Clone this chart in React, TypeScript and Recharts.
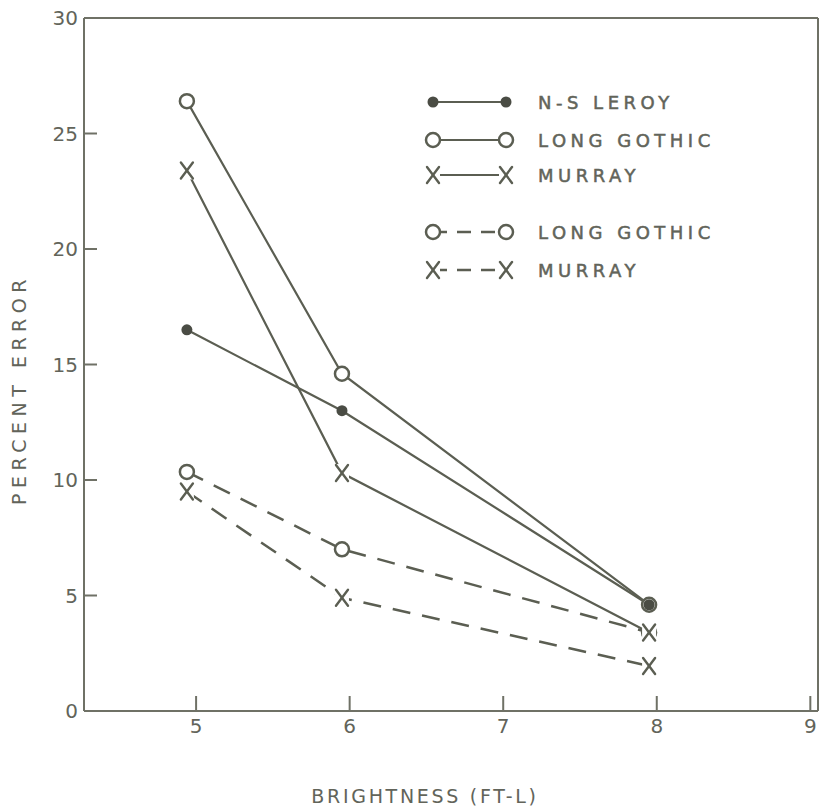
import { LineChart, Line, XAxis, YAxis, Label, ReferenceLine } from "recharts";

// brightness (ft-L) where each reading was taken (plotted just left of the ticks)
const brightness = [4.94, 5.95, 7.95];

// percent error per lettering style (solid = first condition, dashed = second)
const leroySolid = [16.5, 13.0, 4.6];
const gothicSolid = [26.4, 14.6, 4.6];
const murraySolid = [23.4, 10.3, 3.4];
const gothicDashed = [10.35, 7.0, 3.4];
const murrayDashed = [9.5, 4.9, 1.95];

const xTicks = [5, 6, 7, 8, 9];
const yTicks = [0, 5, 10, 15, 20, 25, 30];

const INK = "#5b5e52";
const DOT = "#4a4c44";
const AXIS = "#6f7166";
const TEXT = "#62645a";
const FONT = "'DejaVu Sans', sans-serif";

type Marker = "filled" | "open" | "x";

const series: { key: string; name: string; values: number[]; marker: Marker; dashed: boolean }[] = [
  { key: "gothicDashed", name: "LONG GOTHIC", values: gothicDashed, marker: "open", dashed: true },
  { key: "murrayDashed", name: "MURRAY", values: murrayDashed, marker: "x", dashed: true },
  { key: "murraySolid", name: "MURRAY", values: murraySolid, marker: "x", dashed: false },
  { key: "gothicSolid", name: "LONG GOTHIC", values: gothicSolid, marker: "open", dashed: false },
  { key: "leroySolid", name: "N-S LEROY", values: leroySolid, marker: "filled", dashed: false },
];

const legendOrder = ["leroySolid", "gothicSolid", "murraySolid", "gothicDashed", "murrayDashed"];

const rows = brightness.map((x, i) => {
  const r: Record<string, number> = { x };
  series.forEach((s) => (r[s.key] = s.values[i]));
  return r;
});

function drawMarker(kind: Marker, cx: number, cy: number, key?: string) {
  if (kind === "filled") return <circle key={key} cx={cx} cy={cy} r={5.5} fill={DOT} />;
  if (kind === "open")
    return <circle key={key} cx={cx} cy={cy} r={7} fill="#fff" stroke={INK} strokeWidth={2.5} />;
  return (
    <g key={key} stroke={INK} strokeWidth={2.4} strokeLinecap="round">
      <rect x={cx - 7} y={cy - 9} width={14} height={18} fill="#fff" stroke="none" />
      <line x1={cx - 6} y1={cy - 8} x2={cx + 6} y2={cy + 8} />
      <line x1={cx + 6} y1={cy - 8} x2={cx - 6} y2={cy + 8} />
    </g>
  );
}

const makeDot = (kind: Marker) => (p: any) => {
  if (p.cx == null || p.cy == null) return <g key={p.key} />;
  return drawMarker(kind, p.cx, p.cy, `${kind}-${p.index}`);
};

function LegendBox() {
  const ys = [12, 50, 85, 142, 180];
  return (
    <svg width={330} height={200} style={{ position: "absolute", left: 422, top: 90 }}>
      {legendOrder.map((k, i) => {
        const s = series.find((d) => d.key === k)!;
        const y = ys[i];
        return (
          <g key={k}>
            <line
              x1={11}
              y1={y}
              x2={84}
              y2={y}
              stroke={INK}
              strokeWidth={s.dashed ? 2.5 : 2.2}
              strokeDasharray={s.dashed ? "14 10" : undefined}
            />
            {drawMarker(s.marker, 11, y)}
            {drawMarker(s.marker, 84, y)}
            <text
              x={116}
              y={y}
              dominantBaseline="central"
              fontFamily={FONT}
              fontSize={18}
              letterSpacing={4.5}
              fill={TEXT}
              stroke={TEXT}
              strokeWidth={0.5}
            >
              {s.name}
            </text>
          </g>
        );
      })}
    </svg>
  );
}

export default function App() {
  return (
    <div style={{ position: "absolute", left: 0, top: 0, width: 825, height: 808, background: "#fff" }}>
      <LineChart width={825} height={808} data={rows} margin={{ top: 18, right: 7, left: 0, bottom: 0 }}>
        <XAxis
          type="number"
          dataKey="x"
          domain={[4.27, 9.05]}
          ticks={xTicks}
          height={97}
          tickSize={-15}
          tickMargin={23}
          stroke={AXIS}
          strokeWidth={2}
          tick={{ fill: TEXT, fontSize: 20, fontFamily: FONT }}
        >
          <Label
            content={(props: any) => {
              const vb = props.viewBox;
              return (
                <text
                  x={vb.x + vb.width / 2 - 26}
                  y={vb.y + 85}
                  textAnchor="middle"
                  dominantBaseline="central"
                  fontFamily={FONT}
                  fontSize={19}
                  letterSpacing={2.7}
                  fill={TEXT}
                >
                  BRIGHTNESS (FT-L)
                </text>
              );
            }}
          />
        </XAxis>
        <YAxis
          type="number"
          domain={[0, 30]}
          ticks={yTicks}
          width={84}
          tickSize={-13}
          tickMargin={19}
          stroke={AXIS}
          strokeWidth={2}
          tick={{ fill: TEXT, fontSize: 20, fontFamily: FONT }}
        >
          <Label
            content={(props: any) => {
              const vb = props.viewBox;
              const x = vb.x + 19;
              const y = vb.y + vb.height / 2 + 25;
              return (
                <text
                  x={x}
                  y={y}
                  transform={`rotate(-90, ${x}, ${y})`}
                  textAnchor="middle"
                  dominantBaseline="central"
                  fontFamily={FONT}
                  fontSize={19}
                  letterSpacing={5.5}
                  fill={TEXT}
                >
                  PERCENT ERROR
                </text>
              );
            }}
          />
        </YAxis>
        <ReferenceLine y={30} stroke={AXIS} strokeWidth={2} />
        <ReferenceLine x={9.05} stroke={AXIS} strokeWidth={2} />
        {series.map((s) => (
          <Line
            key={s.key}
            dataKey={s.key}
            type="linear"
            stroke={INK}
            strokeWidth={s.dashed ? 2.5 : 2.2}
            strokeDasharray={s.dashed ? "18 12" : undefined}
            dot={makeDot(s.marker)}
            activeDot={false}
            isAnimationActive={false}
          />
        ))}
      </LineChart>
      <LegendBox />
    </div>
  );
}
